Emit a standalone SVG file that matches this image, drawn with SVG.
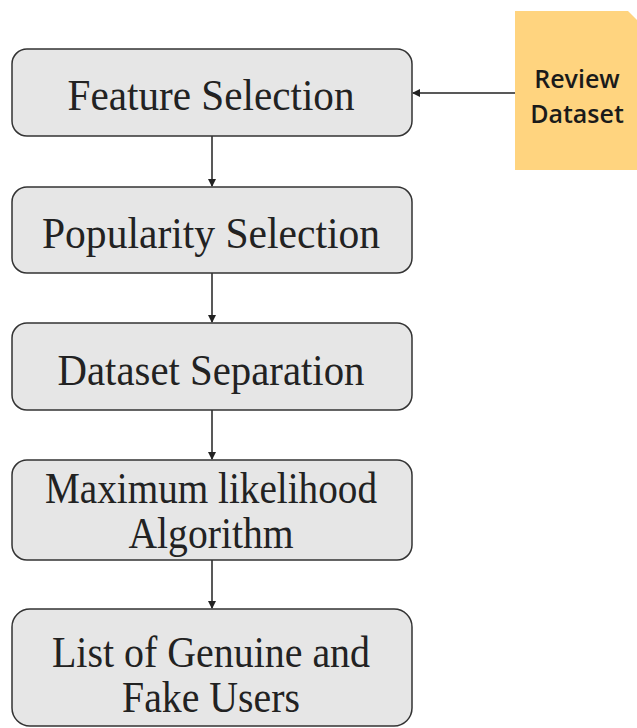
<svg xmlns="http://www.w3.org/2000/svg" width="637" height="728" viewBox="0 0 637 728">
<style>
.box{fill:#e6e6e6;stroke:#333;stroke-width:1.5}
.t{font-family:"Liberation Serif","DejaVu Serif",serif;font-size:44px;fill:#222;text-anchor:middle}
.s{font-family:"Open Sans","Liberation Sans",sans-serif;font-weight:600;font-size:25px;fill:#1a1a1a;text-anchor:middle}
.c{stroke:#222;stroke-width:1.5;fill:none;marker-end:url(#ah)}
</style>
<defs>
<marker id="ah" markerWidth="8" markerHeight="8" refX="7" refY="4" orient="auto" markerUnits="userSpaceOnUse">
<path d="M0,0 L8,4 L0,8 Z" fill="#222"/>
</marker>
</defs>
<rect width="637" height="728" fill="#fff"/>
<g id="connectors">
<line class="c" x1="515" y1="93" x2="413" y2="93"/>
<line class="c" x1="212" y1="136" x2="212" y2="186"/>
<line class="c" x1="212" y1="273" x2="212" y2="322"/>
<line class="c" x1="212" y1="410" x2="212" y2="459"/>
<line class="c" x1="212" y1="560" x2="212" y2="608"/>
</g>
<g id="review">
<path d="M515,11 H628 L637,20 V170 H515 Z" fill="#ffd47f"/>
<text class="s" x="577" y="88">Review</text>
<text class="s" x="577" y="123">Dataset</text>
</g>
<g id="feature">
<rect class="box" x="12" y="49" width="400" height="87" rx="15"/>
<text class="t" x="211" y="110" textLength="287" lengthAdjust="spacingAndGlyphs">Feature Selection</text>
</g>
<g id="popularity">
<rect class="box" x="12" y="187" width="400" height="86" rx="15"/>
<text class="t" x="211" y="248" textLength="338" lengthAdjust="spacingAndGlyphs">Popularity Selection</text>
</g>
<g id="separation">
<rect class="box" x="12" y="323" width="400" height="87" rx="15"/>
<text class="t" x="211" y="385" textLength="307" lengthAdjust="spacingAndGlyphs">Dataset Separation</text>
</g>
<g id="ml">
<rect class="box" x="12" y="460" width="400" height="100" rx="15"/>
<text class="t" x="211" y="503" textLength="332" lengthAdjust="spacingAndGlyphs">Maximum likelihood</text>
<text class="t" x="211" y="548" textLength="165" lengthAdjust="spacingAndGlyphs">Algorithm</text>
</g>
<g id="list">
<rect class="box" x="12" y="609" width="400" height="117" rx="18"/>
<text class="t" x="211" y="667" textLength="318" lengthAdjust="spacingAndGlyphs">List of Genuine and</text>
<text class="t" x="211" y="712" textLength="178" lengthAdjust="spacingAndGlyphs">Fake Users</text>
</g>
</svg>
